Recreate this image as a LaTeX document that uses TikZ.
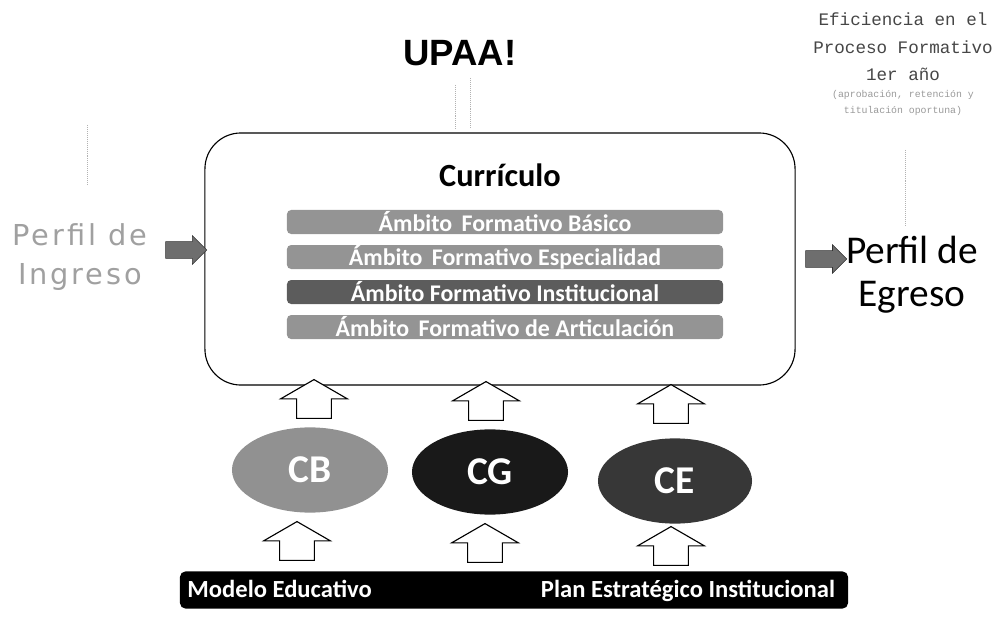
\documentclass[tikz,border=0pt]{standalone}
\usepackage{fontspec}
\setmainfont{Carlito}
\newfontfamily\upaafont{Liberation Sans}
\newfontfamily\widefont[LetterSpace=10]{DejaVu Sans}
\newfontfamily\monofont{Liberation Mono}
\definecolor{bargray}{RGB}{148,148,148}
\definecolor{bardark}{RGB}{92,92,92}
\definecolor{cbgray}{RGB}{145,145,145}
\definecolor{cggray}{RGB}{25,25,25}
\definecolor{cegray}{RGB}{55,55,55}
\definecolor{ingreso}{RGB}{160,160,160}
\definecolor{arrowgray}{RGB}{110,110,110}
\definecolor{notegray}{RGB}{70,70,70}
\usetikzlibrary{shapes.geometric, shapes.arrows}
\tikzstyle{curriculo} = [rectangle, rounded corners=0.9cm, minimum width=14.75cm, minimum height=6.3cm, draw=black, thick]
\tikzstyle{bar} = [rectangle, rounded corners=3pt, minimum width=10.9cm, minimum height=0.6cm, inner sep=0pt, text centered, fill=bargray, text=white, font=\bfseries\fontsize{17}{17}\selectfont]
\tikzstyle{comp} = [ellipse, minimum width=3.9cm, minimum height=2.13cm, text=white, font=\bfseries\fontsize{28}{28}\selectfont]
\tikzstyle{uparrow} = [single arrow, draw=black, fill=white, thick, rotate=90, minimum height=0.97cm, single arrow head extend=0.4cm, single arrow tip angle=120, inner xsep=0pt, inner ysep=0.42cm]
\tikzstyle{sidearrow} = [single arrow, draw=black!80, fill=arrowgray, minimum height=1.03cm, single arrow head extend=0.15cm, inner xsep=0pt, inner ysep=0.2cm]
\tikzstyle{base} = [rectangle, rounded corners=4pt, minimum width=16.7cm, minimum height=0.93cm, fill=black]
\tikzstyle{basetext} = [text=white, text height=1.6ex, text depth=0.3ex, font=\bfseries\fontsize{17.5}{17.5}\selectfont]
\tikzstyle{scanline} = [densely dotted, gray!60, thin]

\begin{document}
\begin{tikzpicture}[x=0.025cm, y=-0.025cm]
        \useasboundingbox (0,0) rectangle (1006,623);

        \node (node0) [font=\upaafont\bfseries\fontsize{26}{26}\selectfont] at (460,53) {UPAA!};
        \node (node1) [curriculo] at (500,259) {};
        \node (node2) [font=\bfseries\fontsize{23}{23}\selectfont] at (500,175) {Currículo};

        \node (node3) [bar] at (505,222) {Ámbito\, Formativo Básico};
        \node (node4) [bar, below of=node3, node distance=0.875cm] {Ámbito\, Formativo Especialidad};
        \node (node5) [bar, below of=node4, node distance=0.875cm, fill=bardark] {Ámbito Formativo Institucional};
        \node (node6) [bar, below of=node5, node distance=0.875cm] {Ámbito\, Formativo de Articulación};

        \node (node7) [text=ingreso, align=center, font=\widefont\fontsize{20.5}{28}\selectfont] at (80,257) {Perfil de\\Ingreso};
        \node (node8) [align=center, font=\fontsize{28}{30.6}\selectfont] at (912,275) {Perfil de\\Egreso};
        \node (node9) [sidearrow] at (182,250) {};
        \node (node10) [sidearrow] at (822,259) {};

        \node (node11) [text=notegray, align=center, font=\monofont\fontsize{12.5}{19.5}\selectfont] at (903,47) {Eficiencia en el\\Proceso Formativo\\1er año};
        \node (node12) [text=gray!80, align=center, font=\monofont\fontsize{7}{11}\selectfont] at (903,103) {(aprobación, retención y\\titulación oportuna)};

        \node (node13) [comp, fill=cbgray] at (310,470) {CB};
        \node (node14) [comp, fill=cggray] at (490,472) {CG};
        \node (node15) [comp, fill=cegray, minimum width=3.85cm] at (675,481) {CE};

        \node (node16) [uparrow] at (314,404) {};
        \node (node17) [uparrow] at (486,406) {};
        \node (node18) [uparrow] at (671,409) {};

        \node (node19) [base] at (514,590) {};
        \node (node20) [basetext, anchor=west] at ([xshift=2pt,yshift=-2pt]node19.west) {Modelo Educativo};
        \node (node21) [basetext, anchor=east] at ([xshift=-6pt,yshift=-2pt]node19.east) {Plan Estratégico Institucional};

        \node (node22) [uparrow] at (297,546) {};
        \node (node23) [uparrow] at (485,548) {};
        \node (node24) [uparrow] at (671,551) {};

        \draw [scanline] (87,125) -- (87,185);
        \draw [scanline] (455,85) -- (455,130);
        \draw [scanline] (470,78) -- (470,128);
        \draw [scanline] (905,150) -- (905,225);
    \end{tikzpicture}
\end{document}
